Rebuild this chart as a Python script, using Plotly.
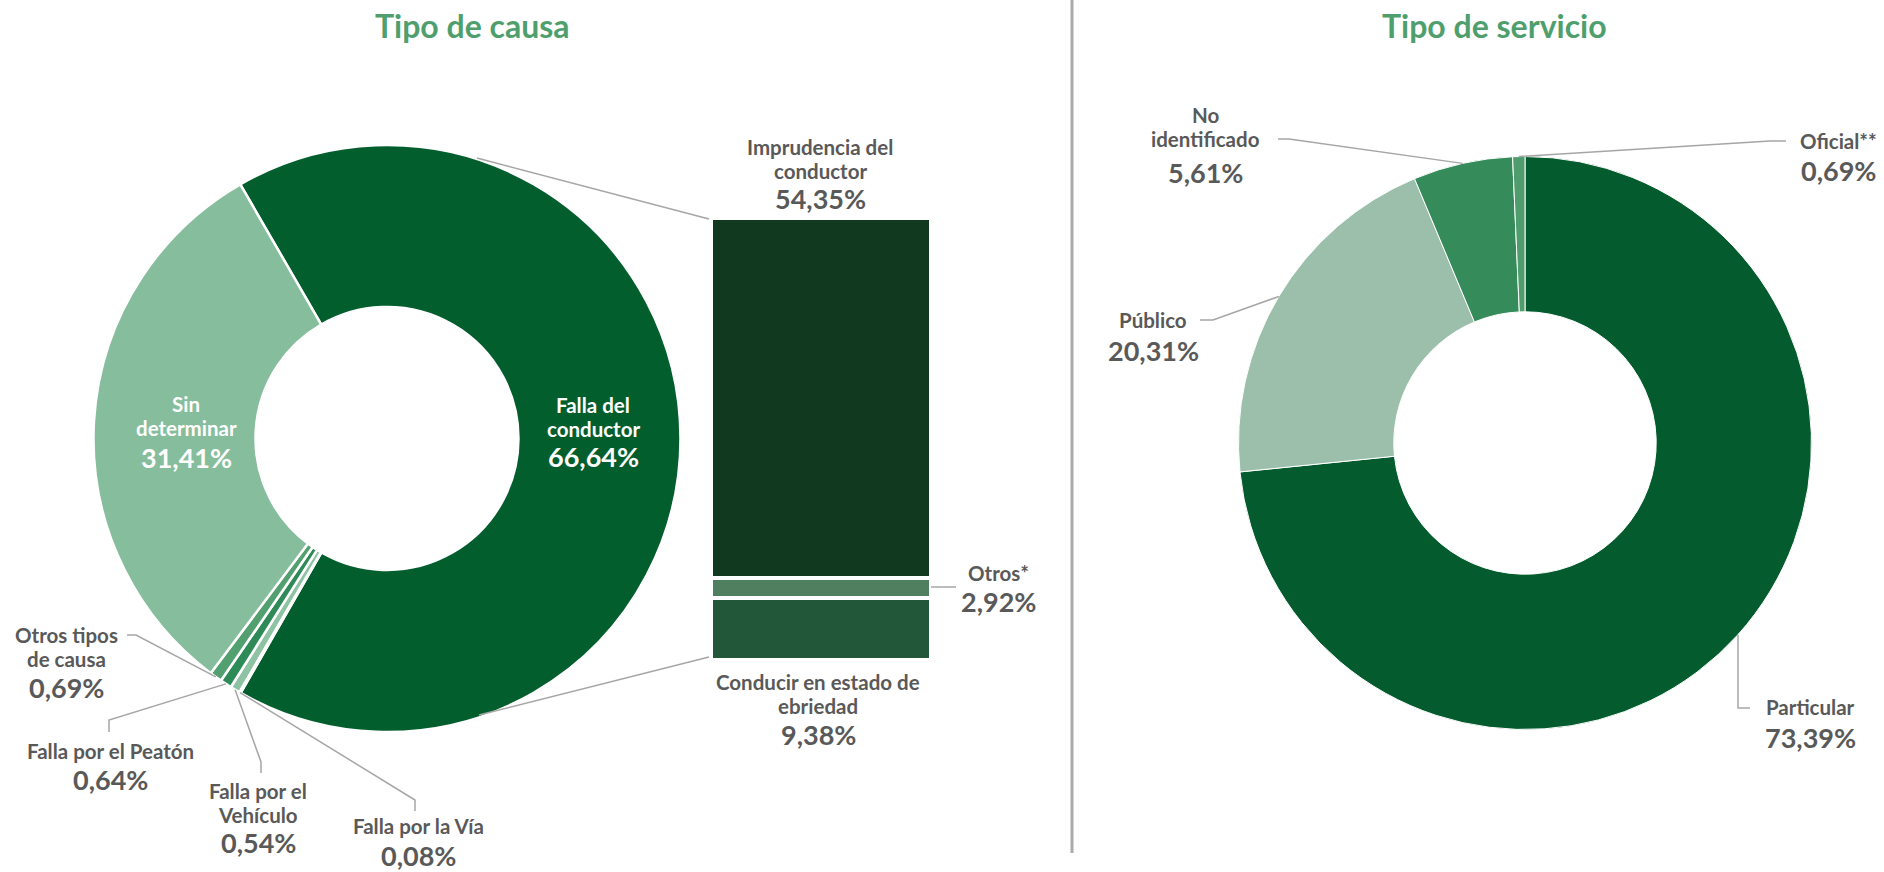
import math
import plotly.graph_objects as go

W, H = 1884, 872

# ---------------- DATA ----------------
causa_labels = ["Falla del conductor", "Falla por la Vía", "Falla por el Vehículo",
                "Falla por el Peatón", "Otros tipos de causa", "Sin determinar"]
causa_names = ["Falla del<br>conductor", "Falla por la Vía", "Falla por el<br>Vehículo",
               "Falla por el Peatón", "Otros tipos<br>de causa", "Sin<br>determinar"]
causa_values = [66.64, 0.08, 0.54, 0.64, 0.69, 31.41]

conductor_labels = ["Conducir en estado de ebriedad", "Otros*", "Imprudencia del conductor"]
conductor_names = ["Conducir en estado de<br>ebriedad", "Otros*", "Imprudencia del<br>conductor"]
conductor_values = [9.38, 2.92, 54.35]

servicio_labels = ["Particular", "Público", "No identificado", "Oficial**"]
servicio_names = ["Particular", "Público", "No<br>identificado", "Oficial**"]
servicio_values = [73.39, 20.31, 5.61, 0.69]

titles = ["Tipo de causa", "Tipo de servicio"]

# ---------------- STYLE ----------------
FONT = "Lato"
TXT = "#595959"
LEAD = "#a6a6a6"
TITLE_C = "#4f9f6e"
causa_colors = ["#035e2e", "#a9d2b9", "#8dc2a2", "#2e8b57", "#52a070", "#86bd9c"]
conductor_colors = ["#22573a", "#4f7f5f", "#10391f"]
servicio_colors = ["#045c2e", "#9bbfab", "#358c5a", "#4f9c6c"]

L_CX, L_CY, L_R, L_HOLE, L_ROT = 387, 438.5, 293.5, 0.448, -30
R_CX, R_CY, R_R, R_HOLE, R_ROT = 1525, 443, 286.5, 0.458, 0


def px(x):
    return x / W


def py(y):
    return 1 - y / H


def dom(cx, cy, r):
    return dict(x=[px(cx - r), px(cx + r)], y=[py(cy + r), py(cy - r)])


def mid_point(values, idx, rot, cx, cy, r):
    tot = sum(values)
    a = rot + 360 * sum(values[:idx]) / tot + 180 * values[idx] / tot
    a = math.radians(a)
    return cx + r * math.sin(a), cy - r * math.cos(a)


def pct(v):
    return f"{v:.2f}".replace(".", ",") + "%"


fig = go.Figure()

fig.add_trace(go.Pie(
    labels=causa_labels, values=causa_values, sort=False, direction="clockwise",
    rotation=L_ROT, hole=L_HOLE, domain=dom(L_CX, L_CY, L_R),
    marker=dict(colors=causa_colors, line=dict(color="white", width=2.5)),
    textinfo="none", hoverinfo="label+percent", showlegend=False))

fig.add_trace(go.Pie(
    labels=servicio_labels, values=servicio_values, sort=False, direction="clockwise",
    rotation=R_ROT, hole=R_HOLE, domain=dom(R_CX, R_CY, R_R),
    marker=dict(colors=servicio_colors, line=dict(color="white", width=1)),
    textinfo="none", hoverinfo="label+percent", showlegend=False))

for lab, v, c in zip(conductor_labels, conductor_values, conductor_colors):
    fig.add_trace(go.Bar(
        x=[0], y=[v], name=lab, width=1, marker=dict(color=c, line=dict(color="white", width=4)),
        showlegend=False, hoverinfo="name+y"))

annotations = []
shapes = []


def label(x, y_first, name, value, y_value, color=TXT, size=20.5, vsize=27):
    for i, line in enumerate(name.split("<br>")):
        annotations.append(dict(x=px(x), y=py(y_first + i * 24), xref="paper", yref="paper",
                                text=f"<b>{line}</b>", showarrow=False, xanchor="center", yanchor="middle",
                                font=dict(family=FONT, size=size, color=color)))
    annotations.append(dict(x=px(x), y=py(y_value), xref="paper", yref="paper",
                            text=f"<b>{pct(value)}</b>", showarrow=False, xanchor="center", yanchor="middle",
                            font=dict(family=FONT, size=vsize, color=color)))


def path(points, color=LEAD, width=1.5):
    d = "M " + " L ".join(f"{px(x)},{py(y)}" for x, y in points)
    shapes.append(dict(type="path", path=d, xref="paper", yref="paper",
                       line=dict(color=color, width=width)))


# Titles
for t, tx in zip(titles, [472, 1494]):
    annotations.append(dict(x=px(tx), y=py(26), xref="paper", yref="paper", text=f"<b>{t}</b>",
                            showarrow=False, xanchor="center", yanchor="middle",
                            font=dict(family=FONT, size=32, color=TITLE_C)))

# Left donut labels: (x, first line y, value y)
causa_pos = {
    "Falla del conductor": (593, 405, 456),
    "Sin determinar": (186, 404, 457),
    "Otros tipos de causa": (66, 635, 687),
    "Falla por el Peatón": (110, 751, 779),
    "Falla por el Vehículo": (258, 791, 842),
    "Falla por la Vía": (418, 826, 855),
}
inside = {"Falla del conductor", "Sin determinar"}
for lab, nm, v in zip(causa_labels, causa_names, causa_values):
    x, y1, yv = causa_pos[lab]
    label(x, y1, nm, v, yv, color="white" if lab in inside else TXT)

# Leaders for small slices: label-side elbow points
causa_elbows = {
    "Otros tipos de causa": [(127, 635), (136, 635)],
    "Falla por el Peatón": [(109, 732), (109, 720)],
    "Falla por el Vehículo": [(261, 773), (261, 762)],
    "Falla por la Vía": [(415, 811), (415, 800)],
}
for i, lab in enumerate(causa_labels):
    if lab in causa_elbows:
        p = mid_point(causa_values, i, L_ROT, L_CX, L_CY, L_R)
        path(causa_elbows[lab] + [p])

# Bar labels
bar_pos = {
    "Imprudencia del conductor": (820, 147, 198),
    "Otros*": (998, 573, 601),
    "Conducir en estado de ebriedad": (818, 682, 734),
}
for lab, nm, v in zip(conductor_labels, conductor_names, conductor_values):
    x, y1, yv = bar_pos[lab]
    label(x, y1, nm, v, yv)
path([(931, 587), (956, 587)])
# connectors donut -> bar
path([(477, 158), (709, 219)])
path([(479, 715), (709, 657)])

# Right donut labels
serv_pos = {
    "Particular": (1810, 707, 737),
    "Público": (1153, 320, 350),
    "No identificado": (1205, 115, 172),
    "Oficial**": (1838, 141, 170),
}
for lab, nm, v in zip(servicio_labels, servicio_names, servicio_values):
    x, y1, yv = serv_pos[lab]
    label(x, y1, nm, v, yv)
serv_elbows = {
    "Particular": [(1750, 708), (1738, 708)],
    "Público": [(1200, 320), (1213, 320)],
    "No identificado": [(1278, 139), (1289, 139)],
    "Oficial**": [(1786, 141), (1770, 141)],
}
for i, lab in enumerate(servicio_labels):
    p = mid_point(servicio_values, i, R_ROT, R_CX, R_CY, R_R)
    el = serv_elbows[lab]
    if lab == "Particular":
        path(el + [(el[-1][0], p[1])])
    else:
        path(el + [p])

# divider
shapes.append(dict(type="line", xref="paper", yref="paper", x0=px(1072), x1=px(1072),
                   y0=py(0), y1=py(853), line=dict(color="#ababab", width=3)))

fig.update_layout(
    width=W, height=H, margin=dict(l=0, r=0, t=0, b=0),
    paper_bgcolor="white", plot_bgcolor="white", barmode="stack", bargap=0,
    xaxis=dict(domain=[px(711), px(931)], range=[-0.5, 0.5], visible=False, fixedrange=True),
    yaxis=dict(domain=[py(660), py(218)], range=[0, sum(conductor_values)], visible=False, fixedrange=True),
    annotations=annotations, shapes=shapes,
    font=dict(family=FONT, color=TXT),
)

fig.write_html("out.html", config={"displayModeBar": False},
               post_script="document.body.style.margin='0px';")
